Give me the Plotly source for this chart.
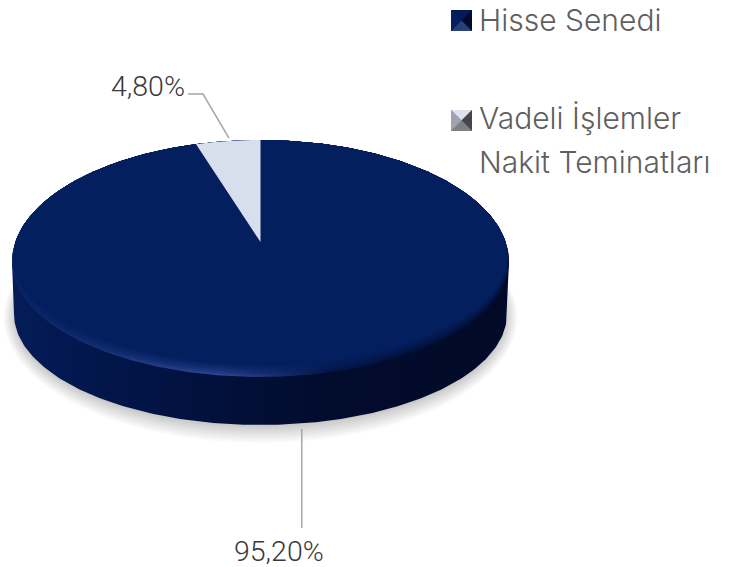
import numpy as np
import plotly.graph_objects as go

# ---- data ----
categories = ["Hisse Senedi", "Vadeli İşlemler<br>Nakit Teminatları"]
values = [95.20, 4.80]
value_labels = ["95,20%", "4,80%"]
slice_colors = ["#031f5e", "#d8dfec"]

# ---- drawing geometry (page pixels) ----
CX, CY = 260.5, 262.0
RX, RY_BACK, RY_FRONT = 248.5, 122.0, 111.0
RY_RIM = 115.0
DEPTH, RX_LOW = 52.0, 246.5
BEVEL = 12.0
APEX_Y = 242.0
VIEW = 0.87  # angular foreshortening of the tilted disc near the back
WIDTH, HEIGHT = 735, 567
FONT_LEG = "Inter"
FONT_LAB = "Roboto"

fig = go.Figure()


def rim(theta, rx=RX, back=RY_BACK, front=RY_FRONT, cy=CY, d=0.0):
    """Point on the tilted rim; theta clockwise from twelve o'clock.
    d pulls the front of the rim inwards, leaving the back edge untouched."""
    c = np.cos(theta)
    shrink = d * np.clip((0.2 - c) / 1.2, 0, 1)
    x = CX + (rx - shrink) * np.sin(theta)
    y = cy - np.where(c > 0, back, front - d) * c
    return x, y


def hex2rgb(h):
    return np.array([int(h[i:i + 2], 16) for i in (1, 3, 5)], float)


def mix(a, b, t):
    c = hex2rgb(a) * (1 - t) + hex2rgb(b) * t
    return "rgb(%d,%d,%d)" % tuple(c.round())


def poly(x, y, **kw):
    fig.add_trace(go.Scatter(x=list(x), y=list(y), mode="lines", fill="toself",
                             line=dict(width=0), hoverinfo="skip", showlegend=False, **kw))


t_all = np.linspace(0, 2 * np.pi, 361)

# soft shadow below the disc
for i in range(12):
    grow = 15 - i * 1.7
    x, y = rim(t_all, RX_LOW + grow * 0.7, RY_BACK, RY_FRONT + grow, CY + DEPTH + 3)
    poly(x, y, fillcolor="rgba(0,0,0,0.018)")

# side wall
t_front = np.linspace(np.pi / 2, 3 * np.pi / 2, 181)
t_back = np.linspace(3 * np.pi / 2, 5 * np.pi / 2, 181)
xl, yl = rim(t_front, RX_LOW, RY_BACK, RY_FRONT, CY + DEPTH)
xu, yu = rim(t_back)
stops_side = [0, 0.1, 0.3, 0.5, 0.65, 1]
cols_side = ["#041c58", "#031850", "#021343", "#010e35", "#010b2c", "#010a28"]
poly(np.r_[xu[-1], xl, xu], np.r_[yu[-1], yl, yu],
     fillgradient=dict(type="horizontal", start=12, stop=509,
                       colorscale=list(zip(stops_side, cols_side))))

# bevelled rim of the top face
stops_rim = [0, 0.12, 0.27, 0.42, 0.52, 0.64, 0.8, 1]
cols_rim = ["#082464", "#0f2b6e", "#203c84", "#2c4792", "#1a3375", "#031547", "#010d33", "#010b2d"]
N = 9
for k in range(N):
    t = k / (N - 1)
    # the bright band sits in the middle of the bevel; the outer edge melts into the wall
    strength = np.sin(np.pi * min(1.0, t * 1.05)) ** 0.8 if t > 0 else 0.0
    scale = []
    for s, c, w in zip(stops_rim, cols_rim, cols_side + cols_side[:2]):
        base = mix(c, slice_colors[0], t ** 0.7)
        scale.append([s, base])
    x, y = rim(t_all, front=RY_RIM, d=BEVEL * t)
    poly(x, y, fillgradient=dict(type="horizontal", start=12, stop=509, colorscale=scale))

# slices, clockwise from twelve o'clock
total = sum(values)
sweeps = [v / total * 2 * np.pi for v in values]
wedge = sweeps[1] * VIEW
edges = [0.0, 2 * np.pi - wedge, 2 * np.pi]
mid_angles = []
for i, (a, b) in enumerate(zip(edges[:-1], edges[1:])):
    t = np.linspace(a, b, 240)
    x, y = rim(t, front=RY_RIM, d=BEVEL if i == 0 else 0.0)
    poly(np.r_[CX, x], np.r_[APEX_Y, y], fillcolor=slice_colors[i], name=categories[i])
    mid_angles.append((a + b) / 2)


# leader lines and value labels
def line(x, y):
    fig.add_trace(go.Scatter(x=x, y=y, mode="lines", line=dict(color="#a6a6a6", width=1.5),
                             hoverinfo="skip", showlegend=False))


mx, my = rim(np.array(mid_angles[0]), RX_LOW, RY_BACK, RY_FRONT, CY + DEPTH)
mx = float(mx) + 9
line([mx, mx], [float(my) + 5, 528])
sx, sy = rim(np.array(mid_angles[1]))
sx, sy = float(sx) + 1, float(sy) - 3
line([188, 203, sx], [94, 94, sy])

lab = dict(family=FONT_LAB, size=28.5, color="#3a3a3a", weight=300)
fig.add_annotation(x=278.5, y=551, text=value_labels[0], showarrow=False, font=lab)
fig.add_annotation(x=147.5, y=86, text=value_labels[1], showarrow=False, font=lab)


# legend: bevelled squares with real text
def marker(x0, y0, s, cols, base):
    c = (x0 + s / 2, y0 + s / 2)
    xs = [x0, x0 + s, x0 + s, x0]
    ys = [y0, y0, y0 + s, y0 + s]
    poly(xs, ys, fillcolor=base)
    # four triangular facets meeting at the centre: top, right, bottom, left
    for j, col in enumerate(cols):
        j2 = (j + 1) % 4
        poly([xs[j], xs[j2], c[0]], [ys[j], ys[j2], c[1]], fillcolor=col)


marker(451, 10, 21, ["#04195a", "#010b2c", "#2a3f78", "#04205f"], "#04195a")
marker(451, 110, 21, ["#dbe1ee", "#45464b", "#7e8086", "#a0a3ac"], "#7e8086")

leg = dict(family=FONT_LEG, size=30, color="#5f5f5f", weight=300)
lines = [categories[0]] + categories[1].split("<br>")
for txt, yy in zip(lines, [20, 118, 162]):
    fig.add_annotation(x=477, y=yy, text=txt, showarrow=False, font=leg, xanchor="left", yanchor="middle")

fig.update_layout(
    width=WIDTH, height=HEIGHT, margin=dict(l=0, r=0, t=0, b=0),
    paper_bgcolor="white", plot_bgcolor="white", showlegend=False,
    xaxis=dict(range=[0, WIDTH], visible=False, fixedrange=True),
    yaxis=dict(range=[HEIGHT, 0], visible=False, fixedrange=True),
)
fig.write_html("out.html", config=dict(displayModeBar=False),
               post_script="document.body.style.margin='0';document.body.style.overflow='hidden';")
